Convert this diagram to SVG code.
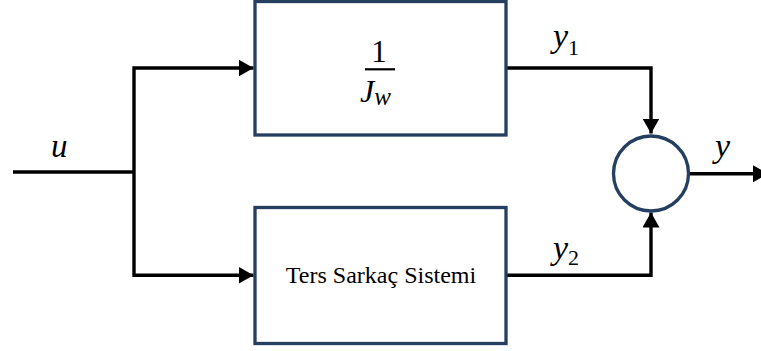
<svg xmlns="http://www.w3.org/2000/svg" width="761" height="351" viewBox="0 0 761 351" font-family="'Liberation Serif', 'DejaVu Serif', serif">
  <style>
    .block { fill: #ffffff; stroke: #243F60; stroke-width: 3.3; }
    .wire { fill: none; stroke: #000000; stroke-width: 3.4; stroke-linejoin: miter; }
    .math { font-style: italic; fill: #000000; }
    .num { font-style: normal; fill: #000000; }
    .label { font-size: 24px; fill: #000000; }
  </style>
  <defs>
    <marker id="arrow" markerUnits="userSpaceOnUse" markerWidth="16" markerHeight="17" refX="15" refY="8.5" orient="auto">
      <path d="M0,0 L15,8.5 L0,17 Z" fill="#000000"/>
    </marker>
  </defs>

  <rect width="761" height="351" fill="#ffffff"/>

  <!-- connectors -->
  <g id="connectors">
    <path class="wire" d="M13,172 H134" stroke-width="4"/>
    <path class="wire" d="M134,172 V68 H253.5" stroke-width="4" marker-end="url(#arrow)"/>
    <path class="wire" d="M134,172 V275.3 H253.5" marker-end="url(#arrow)"/>
    <path class="wire" d="M506,68 H651 V133.5" marker-end="url(#arrow)"/>
    <path class="wire" d="M506,275.3 H651 V212.5" marker-end="url(#arrow)"/>
    <path class="wire" d="M690,173.8 H768" marker-end="url(#arrow)"/>
  </g>

  <!-- gain block 1/Jw -->
  <g id="gain">
    <rect class="block" x="255" y="1.5" width="251" height="133.5"/>
    <text class="num" x="379" y="62" font-size="31" text-anchor="middle">1</text>
    <line x1="365" y1="69.3" x2="395" y2="69.3" stroke="#000000" stroke-width="2.2"/>
    <text class="math" x="360" y="102" font-size="32">J<tspan font-size="25" dy="3">w</tspan></text>
  </g>

  <!-- plant block -->
  <g id="plant">
    <rect class="block" x="255" y="207.5" width="251" height="136"/>
    <text class="label" x="381" y="283" text-anchor="middle">Ters Sarkaç Sistemi</text>
  </g>

  <!-- summing junction -->
  <g id="sum">
    <circle cx="651" cy="173.5" r="37.5" fill="#ffffff" stroke="#243F60" stroke-width="3.3"/>
  </g>

  <!-- signal labels -->
  <g id="labels">
    <text class="math" x="51" y="157" font-size="33">u</text>
    <text class="math" x="553" y="47" font-size="34">y<tspan class="num" font-size="22" dy="8">1</tspan></text>
    <text class="math" x="553" y="259" font-size="34">y<tspan class="num" font-size="22" dy="6">2</tspan></text>
    <text class="math" x="715" y="157" font-size="34">y</text>
  </g>
</svg>
